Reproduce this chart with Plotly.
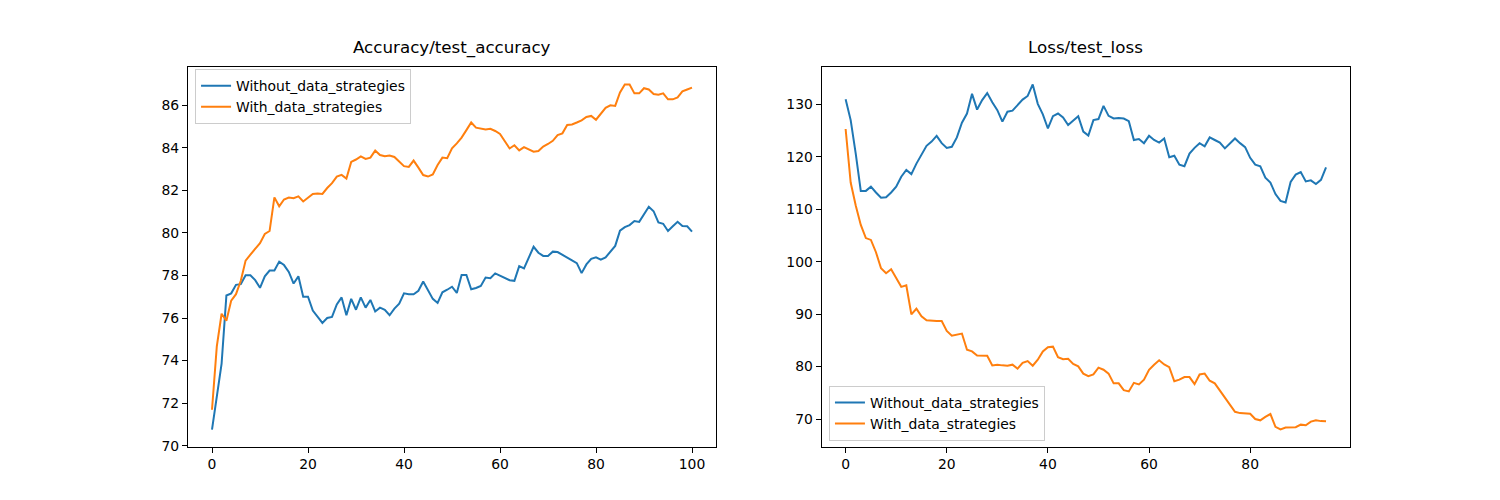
import plotly.graph_objects as go
from plotly.subplots import make_subplots

# accuracy per epoch (0..100)
acc_without = [70.76, 72.24, 73.86, 77.06, 77.16, 77.56, 77.59, 78.01, 78.01, 77.78,
               77.42, 77.96, 78.23, 78.23, 78.65, 78.49, 78.17, 77.62, 77.96, 77.0,
               77.0, 76.35, 76.05, 75.77, 76.0, 76.05, 76.64, 76.97, 76.13, 76.9,
               76.39, 76.97, 76.49, 76.85, 76.31, 76.49, 76.39, 76.13, 76.44, 76.67,
               77.16, 77.12, 77.12, 77.28, 77.72, 77.33, 76.9, 76.71, 77.21, 77.33,
               77.47, 77.18, 78.02, 78.02, 77.35, 77.41, 77.51, 77.9, 77.87, 78.1,
               77.99, 77.9, 77.78, 77.75, 78.44, 78.33, 78.82, 79.35, 79.07, 78.92,
               78.92, 79.12, 79.1, 78.98, 78.85, 78.71, 78.58, 78.11, 78.52, 78.78,
               78.85, 78.74, 78.85, 79.1, 79.39, 80.11, 80.27, 80.37, 80.56, 80.52,
               80.88, 81.23, 81.02, 80.49, 80.43, 80.09, 80.31, 80.52, 80.32, 80.31,
               80.06]
acc_with = [71.69, 74.67, 76.2, 75.87, 76.82, 77.12, 77.75, 78.7, 78.98, 79.25,
            79.52, 79.95, 80.09, 81.67, 81.25, 81.57, 81.66, 81.63, 81.72, 81.48,
            81.67, 81.83, 81.85, 81.83, 82.11, 82.34, 82.65, 82.73, 82.56, 83.34,
            83.45, 83.6, 83.48, 83.54, 83.87, 83.66, 83.6, 83.64, 83.57, 83.34,
            83.14, 83.1, 83.4, 83.07, 82.72, 82.65, 82.75, 83.19, 83.54, 83.51,
            83.98, 84.21, 84.48, 84.83, 85.19, 84.95, 84.92, 84.86, 84.89, 84.79,
            84.65, 84.33, 83.97, 84.12, 83.88, 84.03, 83.94, 83.82, 83.85, 84.06,
            84.18, 84.33, 84.6, 84.68, 85.07, 85.1, 85.19, 85.29, 85.45, 85.5,
            85.32, 85.61, 85.88, 86.0, 85.97, 86.6, 86.98, 86.98, 86.56, 86.56,
            86.8, 86.74, 86.53, 86.5, 86.56, 86.28, 86.28, 86.37, 86.65, 86.74,
            86.83]

# loss per epoch (0..95)
loss_without = [130.95, 127.0, 120.6, 113.5, 113.5, 114.3, 113.2, 112.2, 112.3, 113.2,
                114.3, 116.2, 117.5, 116.7, 118.7, 120.3, 122.1, 122.9, 124.0, 122.6,
                121.7, 121.9, 123.7, 126.5, 128.25, 132.0, 129.0, 130.8, 132.15, 130.4,
                128.9, 126.7, 128.6, 128.8, 129.8, 130.9, 131.6, 133.8, 130.1, 128.1,
                125.4, 127.75, 128.25, 127.5, 126.06, 127.0, 127.75, 124.8, 124.05, 127.0,
                127.2, 129.7, 127.8, 127.3, 127.4, 127.3, 126.8, 123.2, 123.4, 122.6,
                124.0, 123.2, 122.7, 123.5, 119.9, 120.2, 118.5, 118.2, 120.6, 121.7,
                122.6, 122.0, 123.7, 123.2, 122.7, 121.6, 122.6, 123.5, 122.6, 121.85,
                119.8, 118.5, 118.2, 116.0, 115.1, 112.9, 111.6, 111.3, 115.2, 116.6,
                117.1, 115.3, 115.5, 114.8, 115.6, 118.0]
loss_with = [125.3, 115.1, 110.7, 107.0, 104.5, 104.15, 101.8, 98.75, 97.8, 98.56,
             96.87, 95.2, 95.5, 89.96, 91.03, 89.6, 88.83, 88.7, 88.7, 88.7,
             86.8, 85.9, 86.1, 86.3, 83.2, 82.9, 82.1, 82.1, 82.05, 80.23,
             80.36, 80.23, 80.17, 80.36, 79.6, 80.7, 81.05, 80.17, 81.3, 82.9,
             83.7, 83.8, 81.8, 81.4, 81.5, 80.5, 80.04, 78.66, 78.16, 78.5,
             79.8, 79.4, 78.66, 76.8, 76.8, 75.5, 75.27, 76.9, 76.6, 77.5,
             79.4, 80.36, 81.2, 80.4, 79.9, 77.2, 77.5, 78.0, 78.0, 76.65,
             78.5, 78.66, 77.3, 76.8, 75.5, 74.08, 72.7, 71.38, 71.13, 71.13,
             71.0, 70.0, 69.75, 70.4, 70.95, 68.5, 68.0, 68.37, 68.37, 68.43,
             68.93, 68.8, 69.5, 69.75, 69.6, 69.56]

epochs_acc = list(range(len(acc_without)))
epochs_loss = list(range(len(loss_without)))

BLUE = "#1f77b4"
ORANGE = "#ff7f0e"
FONT = "DejaVu Sans"


def padded(lo, hi, frac=0.05):
    # same 5% margin matplotlib puts around the data
    span = hi - lo
    return [lo - span * frac, hi + span * frac]


fig = make_subplots(rows=1, cols=2)

fig.add_trace(go.Scatter(x=epochs_acc, y=acc_without, mode="lines", name="Without_data_strategies",
                         line=dict(color=BLUE, width=2), legend="legend"), row=1, col=1)
fig.add_trace(go.Scatter(x=epochs_acc, y=acc_with, mode="lines", name="With_data_strategies",
                         line=dict(color=ORANGE, width=2), legend="legend"), row=1, col=1)
fig.add_trace(go.Scatter(x=epochs_loss, y=loss_without, mode="lines", name="Without_data_strategies",
                         line=dict(color=BLUE, width=2), legend="legend2"), row=1, col=2)
fig.add_trace(go.Scatter(x=epochs_loss, y=loss_with, mode="lines", name="With_data_strategies",
                         line=dict(color=ORANGE, width=2), legend="legend2"), row=1, col=2)

axis_style = dict(showline=True, linecolor="black", linewidth=1, mirror=True,
                  ticks="outside", ticklen=5, tickcolor="black", tickwidth=1,
                  showgrid=False, zeroline=False, tickfont=dict(family=FONT, size=13.9, color="black"))

# the page body adds an 8px horizontal offset, x domains are shifted back for it
left_dom = [0.12, 0.472]
right_dom = [0.5424, 0.8947]
y_dom = [0.11, 0.88]

fig.update_xaxes(axis_style)
fig.update_yaxes(axis_style)
fig.update_xaxes(domain=left_dom, range=padded(0, len(acc_without) - 1), tick0=0, dtick=20, row=1, col=1)
fig.update_xaxes(domain=right_dom, range=padded(0, len(loss_without) - 1), tick0=0, dtick=20, row=1, col=2)
fig.update_yaxes(domain=y_dom, range=padded(min(acc_without + acc_with), max(acc_without + acc_with)),
                 tick0=70, dtick=2, row=1, col=1)
fig.update_yaxes(domain=y_dom, range=padded(min(loss_without + loss_with), max(loss_without + loss_with)),
                 tick0=70, dtick=10, row=1, col=2)

legend_style = dict(bgcolor="rgba(255,255,255,0.8)", bordercolor="#cccccc", borderwidth=1,
                    font=dict(family=FONT, size=13.9, color="black"), itemwidth=30,
                    tracegroupgap=0)

fig.update_layout(
    width=1500, height=500,
    margin=dict(l=0, r=0, t=0, b=0),
    paper_bgcolor="white", plot_bgcolor="white",
    font=dict(family=FONT, size=13.9, color="black"),
    legend=dict(legend_style, x=0.1247, y=0.876, xanchor="left", yanchor="top"),
    legend2=dict(legend_style, x=0.5473, y=0.122, xanchor="left", yanchor="bottom"),
    annotations=[
        dict(text="Accuracy/test_accuracy", x=sum(left_dom) / 2, y=y_dom[1], xref="paper", yref="paper",
             xanchor="center", yanchor="bottom", yshift=7, showarrow=False,
             font=dict(family=FONT, size=16.7, color="black")),
        dict(text="Loss/test_loss", x=sum(right_dom) / 2, y=y_dom[1], xref="paper", yref="paper",
             xanchor="center", yanchor="bottom", yshift=7, showarrow=False,
             font=dict(family=FONT, size=16.7, color="black")),
    ],
)

fig.write_html("out.html")
